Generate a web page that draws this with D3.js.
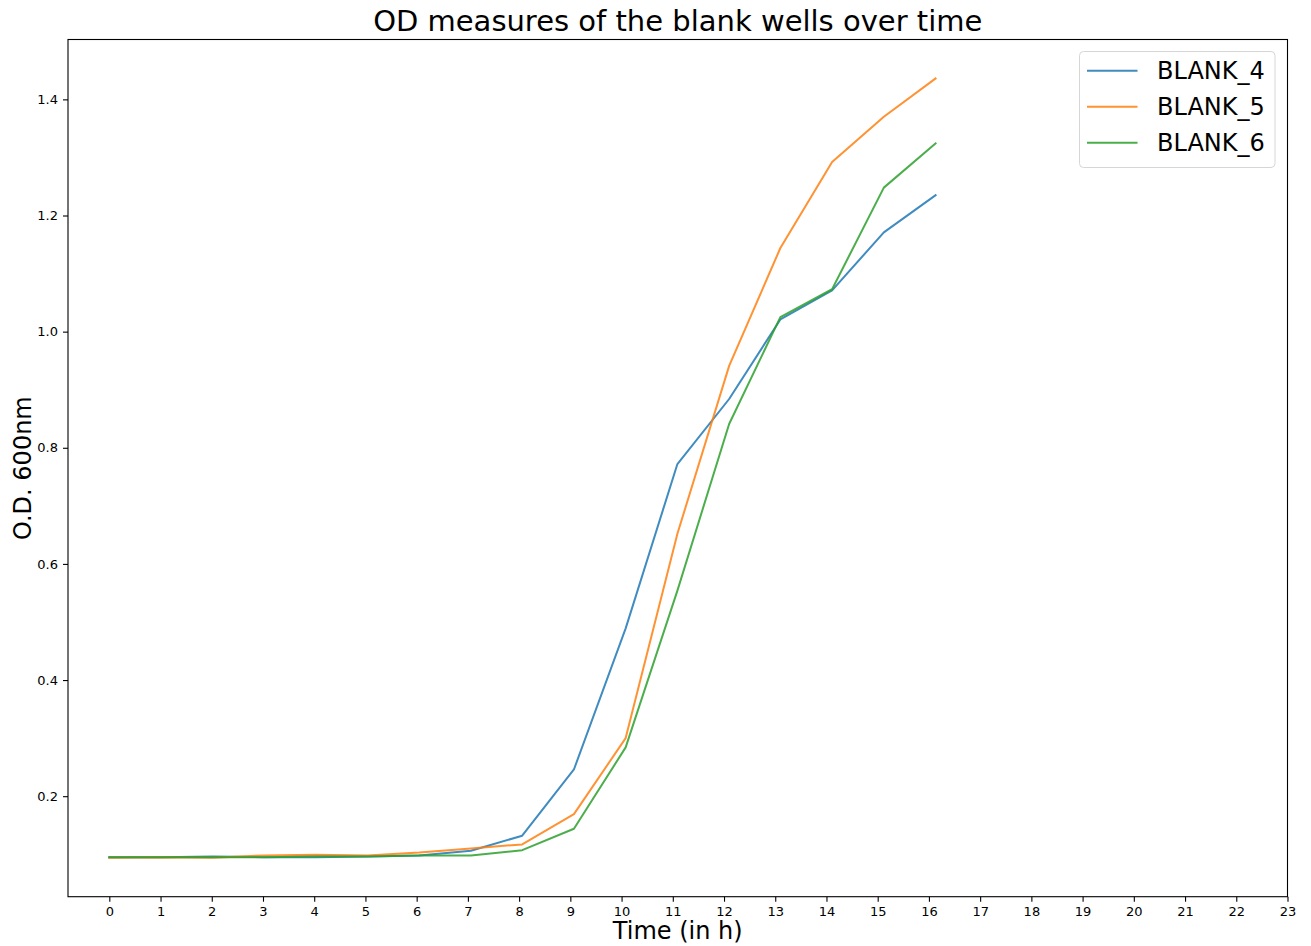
<!DOCTYPE html>
<html>
<head>
<meta charset="utf-8">
<script src="https://cdn.jsdelivr.net/npm/d3@7"></script>
<style>
  html, body { margin: 0; padding: 0; background: #fff; }
  svg { display: block; font-family: "DejaVu Sans", sans-serif; }
</style>
</head>
<body>
<svg id="chart" width="1311" height="946"></svg>
<script>
// ---- data ----
const times = [0, 1.01, 2.02, 3.02, 4.03, 5.04, 6.05, 7.06, 8.06, 9.07, 10.08, 11.09, 12.1, 13.1, 14.11, 15.12, 16.13];
const blank4 = [0.095, 0.095, 0.096, 0.095, 0.095, 0.096, 0.098, 0.106, 0.132, 0.246, 0.489, 0.772, 0.884, 1.021, 1.071, 1.171, 1.235];
const blank5 = [0.094, 0.095, 0.094, 0.098, 0.099, 0.098, 0.103, 0.110, 0.117, 0.169, 0.300, 0.652, 0.941, 1.144, 1.292, 1.370, 1.436];
const blank6 = [0.095, 0.095, 0.095, 0.095, 0.096, 0.096, 0.098, 0.098, 0.107, 0.144, 0.284, 0.554, 0.841, 1.025, 1.073, 1.248, 1.324];
const seriesNames = ["BLANK_4", "BLANK_5", "BLANK_6"];
const seriesColors = ["#1f77b4", "#ff7f0e", "#2ca02c"];
const xTicks = d3.range(0, 24);
const yTicks = [0.2, 0.4, 0.6, 0.8, 1.0, 1.2, 1.4];
const titleText = "OD measures of the blank wells over time";
const xLabel = "Time (in h)";
const yLabel = "O.D. 600nm";

(function () {
const series = [blank4, blank5, blank6].map((vals, i) => ({
  name: seriesNames[i], color: seriesColors[i],
  points: vals.map((v, j) => ({ t: times[j], v }))
}));

// ---- layout ----
const svg = d3.select("#chart");
const pL = 68, pR = 1287.5, pT = 39.5, pB = 896.7;

const allV = [].concat(blank4, blank5, blank6);
const [vmin, vmax] = d3.extent(allV);
const vpad = (vmax - vmin) * 0.05;
const tmax = d3.max(times);

const x = d3.scaleLinear().domain([-tmax * 0.05, 23]).range([pL, pR]);
const y = d3.scaleLinear().domain([vmin - vpad, vmax + vpad]).range([pB, pT]);

// lines
const line = d3.line().x(d => x(d.t)).y(d => y(d.v));
const plot = svg.append("g");
plot.selectAll("path.series").data(series).enter().append("path")
  .attr("class", "series")
  .attr("d", d => line(d.points))
  .attr("fill", "none")
  .attr("stroke", d => d.color)
  .attr("stroke-opacity", 0.85)
  .attr("stroke-width", 2)
  .attr("stroke-linejoin", "round")
  .attr("stroke-linecap", "square");

// axes
const xAxis = d3.axisBottom(x).tickValues(xTicks).tickSize(5).tickPadding(5).tickFormat(d3.format("d"));
const yAxis = d3.axisLeft(y).tickValues(yTicks).tickSize(5).tickPadding(5).tickFormat(d3.format(".1f"));

const gx = svg.append("g").attr("transform", `translate(0,${pB})`).call(xAxis);
const gy = svg.append("g").attr("transform", `translate(${pL},0)`).call(yAxis);
[gx, gy].forEach(g => {
  g.select(".domain").remove();
  g.selectAll(".tick line").attr("stroke", "#000").attr("stroke-width", 1.1);
  g.selectAll(".tick text").attr("fill", "#000").style("font-size", "13px").style("font-family", "DejaVu Sans");
});

// frame
svg.append("rect")
  .attr("x", pL).attr("y", pT)
  .attr("width", pR - pL).attr("height", pB - pT)
  .attr("fill", "none").attr("stroke", "#000").attr("stroke-width", 1.1);

// title
svg.append("text")
  .attr("x", (pL + pR) / 2).attr("y", 31)
  .attr("text-anchor", "middle")
  .style("font-size", "29px")
  .attr("fill", "#000")
  .text(titleText);

// axis labels
svg.append("text")
  .attr("x", (pL + pR) / 2).attr("y", 939)
  .attr("text-anchor", "middle")
  .style("font-size", "24px")
  .attr("fill", "#000")
  .text(xLabel);

svg.append("text")
  .attr("transform", `translate(31,${(pT + pB) / 2}) rotate(-90)`)
  .attr("text-anchor", "middle")
  .style("font-size", "24px")
  .attr("fill", "#000")
  .text(yLabel);

// legend
const lg = svg.append("g");
lg.append("rect")
  .attr("x", 1079.5).attr("y", 51.5)
  .attr("width", 195.5).attr("height", 116)
  .attr("rx", 4).attr("ry", 4)
  .attr("fill", "#fff").attr("fill-opacity", 0.8)
  .attr("stroke", "#d6d6d6").attr("stroke-width", 1);
const items = lg.selectAll("g.item").data(series).enter().append("g")
  .attr("class", "item")
  .attr("transform", (d, i) => `translate(0,${70.7 + i * 36})`);
items.append("line")
  .attr("x1", 1087).attr("x2", 1137.5)
  .attr("y1", 0).attr("y2", 0)
  .attr("stroke", d => d.color).attr("stroke-opacity", 0.85).attr("stroke-width", 2);
items.append("text")
  .attr("x", 1157).attr("y", 8.5)
  .style("font-size", "24px")
  .attr("fill", "#000")
  .text(d => d.name);
})();
</script>
</body>
</html>
